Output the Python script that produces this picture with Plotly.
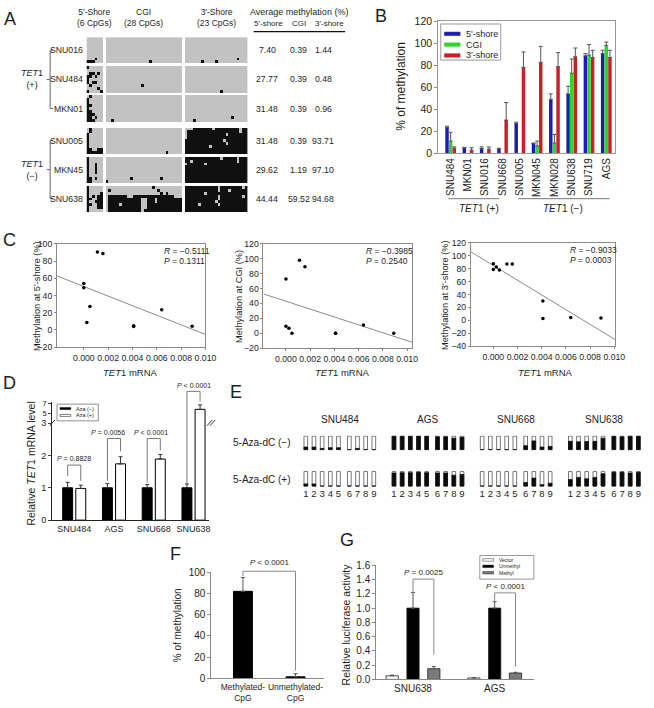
import numpy as np
import plotly.graph_objects as go

W, H = 654, 708
FONT = "Arial, 'Liberation Sans', Helvetica, sans-serif"
INK = "#1e1e1e"


def PX(x):
    return x / W


def PY(y):
    return 1 - y / H


def DX(a, b):
    return [PX(a), PX(b)]


def DY(top, bottom):
    return [PY(bottom), PY(top)]


def lin(dom, rng, v):
    return dom[0] + (v - rng[0]) / (rng[1] - rng[0]) * (dom[1] - dom[0])


# ===================== DATA =====================
A_LINES = ["SNU016", "SNU484", "MKN01", "SNU005", "MKN45", "SNU638"]
A_ROWS = {
    "SNU016": [
        "...... ............................ .......................",
        "...... ............................ .......................",
        "...... ............................ .......................",
        "...... ............................ .......................",
        "...... ............................ .......................",
        "...... ............................ .......................",
        "...... ............................ .......................",
        "...#.. ............................ ...................#...",
        "###... ................#........... ......#....#...........",
    ],
    "SNU484": [
        "#..... ............................ .......................",
        "...... ............................ .......................",
        ".##.#. ............................ .......................",
        "##.#.. ............................ .......................",
        "#..... ............................ .......................",
        "#.##.. ............................ .......................",
        ".#.... .............#.............. .......................",
        "....#. ............................ .......................",
        "#....# ............................ .............#.........",
    ],
    "MKN01": [
        ".#.... ............................ .......................",
        "#..... ............................ .......................",
        "#..... ............................ .......................",
        "##.... ............................ .......................",
        "#..... ............................ .......................",
        "##.... ............................ .......................",
        "###... ............................ .......................",
        "##.#.. ............................ .................#.....",
        "###... ..#......................... ...#...................",
    ],
    "SNU005": [
        ".#.... ............................ ...#######.#########.##",
        ".#.... ............................ .###################.##",
        "#..... ............................ .##############.#######",
        "#..... ............................ .######################",
        "#..... ............................ ##############.########",
        "#..... ............................ ###############.#######",
        "#..... ............................ #########.#############",
        "##..## ............................ #######################",
        "###### ......................#..... #######################",
    ],
    "MKN45": [
        "#..... ............................ #############.#####.###",
        "#..... ............................ ##.################.###",
        "#..#.. ............................ .######.###############",
        "#..#.. ............................ #######################",
        "#..#.. ............................ #######################",
        "#..#.. ............................ #######################",
        "#..... ............................ #######################",
        "##.#.. .........#..........#....... #######################",
        "##.... #........................... #######################",
    ],
    "SNU638": [
        "#..... .................#.......... ############.########.#",
        "#..... .#.................#........ ############.###.######",
        "#....# ....................#.#..... #######.###############",
        "#.#.## .#######..###############... ############.########.#",
        "##..## .############..###.######### ############.##########",
        "#..### .############..###.######### ###########.###########",
        "##..## .####.#######..############# #####.######.##########",
        "#...## .############..############# #######################",
        "#..... .############.############## #######################",
    ],
}
A_AVG_5SHORE = [7.40, 27.77, 31.48, 31.48, 29.62, 44.44]
A_AVG_CGI = [0.39, 0.39, 0.39, 0.39, 1.19, 59.52]
A_AVG_3SHORE = [1.44, 0.48, 0.96, 93.71, 97.10, 94.68]

B_LINES = ["SNU484", "MKN01", "SNU016", "SNU668", "SNU005", "MKN045", "MKN028", "SNU638", "SNU719", "AGS"]
B_5SHORE = [23.5, 4.8, 4.2, 3.9, 27.2, 8.7, 49, 54, 88.7, 90.7]
B_5SHORE_ERR = [1, 0.5, 1.5, 0.5, 1, 0.6, 5, 7, 2, 3]
B_CGI = [11, 0, 0, 0, 0, 6.6, 9.3, 72.8, 89.3, 98.2]
B_CGI_ERR = [8, 0, 0, 0, 0, 4.4, 7.7, 13, 9.7, 3]
B_3SHORE = [4.5, 2.7, 3.6, 30.1, 78.2, 82.7, 78.8, 87.8, 87.2, 87.2]
B_3SHORE_ERR = [1.2, 2.3, 2, 16, 14, 14.6, 12.8, 8, 6.5, 6.5]

C_TET1 = [0.0064, 0.0041, 0.0089, 0.0041, 0.0005, 0.00025, 0.0, 0.0, 0.00157, 0.00112]
C_R = ["\u22120.5111", "\u22120.3985", "\u22120.9033"]
C_P = ["0.1311", "0.2540", "0.0003"]

D_LINES = ["SNU484", "AGS", "SNU668", "SNU638"]
D_AZA_NEG = [1.0, 1.0, 1.0, 1.0]
D_AZA_NEG_ERR = [0.17, 0.13, 0.10, 0.12]
D_AZA_POS = [0.98, 1.74, 1.89, 5.8]
D_AZA_POS_ERR = [0.10, 0.22, 0.14, 0.9]
D_PVALS = ["<i>P</i> = 0.8828", "<i>P</i> = 0.0056", "<i>P</i> < 0.0001", "<i>P</i> < 0.0001"]

E_LINES = ["SNU484", "AGS", "SNU668", "SNU638"]
E_AZA_NEG = {
    "SNU484": [0.2, 0.2, 0.1, 0.15, 0.15, 0.0, 0.1, 0.0, 0.0],
    "AGS": [1.0, 1.0, 1.0, 1.0, 1.0, 0.95, 0.95, 0.85, 0.92],
    "SNU668": [0.0, 0.0, 0.0, 0.0, 0.0, 0.3, 0.65, 0.2, 0.25],
    "SNU638": [0.62, 0.58, 0.6, 0.62, 0.85, 1.0, 0.95, 1.0, 1.0],
}
E_AZA_POS = {
    "SNU484": [0.15, 0.15, 0.0, 0.0, 0.0, 0.0, 0.0, 0.0, 0.0],
    "AGS": [0.9, 0.92, 0.92, 0.95, 0.92, 0.9, 0.9, 0.75, 0.8],
    "SNU668": [0.0, 0.0, 0.0, 0.0, 0.0, 0.25, 0.55, 0.1, 0.2],
    "SNU638": [0.45, 0.6, 0.5, 0.6, 0.85, 0.95, 0.95, 0.9, 0.95],
}

F_GROUPS = ["Methylated-<br>CpG", "Unmethylated-<br>CpG"]
F_VALUES = [82, 1.5]
F_ERR = [13, 3]

G_LINES = ["SNU638", "AGS"]
G_VECTOR = [0.05, 0.02]
G_VECTOR_ERR = [0.01, 0.005]
G_UNMETH = [1.0, 1.0]
G_UNMETH_ERR = [0.22, 0.09]
G_METH = [0.15, 0.09]
G_METH_ERR = [0.03, 0.01]
G_PVALS = ["<i>P</i> = 0.0025", "<i>P</i> < 0.0001"]

# ===================== FIGURE =====================
fig = go.Figure()
ann = []
shp = []


def text(x, y, s, size=10, xanchor="center", yanchor="middle", angle=0, xref="paper", yref="paper", color=INK):
    ann.append(dict(x=x, y=y, xref=xref, yref=yref, text=s, showarrow=False,
                    font=dict(size=size, color=color, family=FONT),
                    xanchor=xanchor, yanchor=yanchor, textangle=angle))


def seg(x0, y0, x1, y1, color="#666", width=1):
    shp.append(dict(type="line", xref="paper", yref="paper", x0=x0, y0=y0, x1=x1, y1=y1,
                    line=dict(color=color, width=width)))


def rect(x0, y0, x1, y1, fill, lc="#222", lw=0.8):
    shp.append(dict(type="rect", xref="paper", yref="paper", x0=x0, y0=y0, x1=x1, y1=y1,
                    fillcolor=fill, line=dict(color=lc, width=lw)))


def ebar(arr, color="#333"):
    return dict(type="data", array=arr, arrayminus=[0] * len(arr), symmetric=False,
                color=color, thickness=1, width=2)


axes = {}
base_ax = dict(showgrid=False, zeroline=False, fixedrange=True,
               tickfont=dict(family=FONT, size=10, color=INK))

# ---------------- Panel A ----------------
N5, NC, N3 = 6, 28, 23
ncols = N5 + 1 + NC + 1 + N3
z = []
centers = []
for b, name in enumerate(A_LINES):
    if b > 0:
        z.append([None] * ncols)
        if b == 3:
            z.append([None] * ncols)
    start = len(z)
    for row in A_ROWS[name]:
        p5, pc, p3 = row.split()
        p5 = p5.ljust(N5, ".")[:N5]
        pc = pc.ljust(NC, ".")[:NC]
        p3 = p3.ljust(N3, ".")[:N3]
        conv = lambda s: [1 if ch == "#" else 0 for ch in s]
        z.append(conv(p5) + [None] + conv(pc) + [None] + conv(p3))
    centers.append((start + len(z) - 1) / 2)
nrows = len(z)
fig.add_trace(go.Heatmap(z=z, x=list(range(ncols)), y=list(range(nrows)),
                         colorscale=[[0, "#c2c2c2"], [0.5, "#c2c2c2"], [0.5, "#101010"], [1, "#101010"]],
                         zmin=0, zmax=1, showscale=False, hoverinfo="skip", xaxis="x", yaxis="y"))
A_XD, A_XR = DX(88, 252), [-0.5, ncols - 0.5]
A_YD, A_YR = DY(31.7, 209.5), [nrows - 0.5, -0.5]
axes["xaxis"] = dict(base_ax, domain=A_XD, range=A_XR, visible=False, anchor="y")
axes["yaxis"] = dict(base_ax, domain=A_YD, range=A_YR, visible=False, anchor="x")

ax_x = lambda c: lin(A_XD, A_XR, c)
ax_y = lambda r: lin(A_YD, A_YR, r)
text(ax_x((N5 - 1) / 2), PY(12), "5'-Shore<br>(6 CpGs)", size=8.5)
text(ax_x(N5 + 1 + (NC - 1) / 2), PY(12), "CGI<br>(28 CpGs)", size=8.5)
text(ax_x(N5 + NC + 2 + (N3 - 1) / 2), PY(12), "3'-Shore<br>(23 CpGs)", size=8.5)
text(PX(304), PY(6.5), "Average methylation (%)", size=9)
text(PX(273), PY(17.5), "5'-shore", size=8)
text(PX(304), PY(17.5), "CGI", size=8)
text(PX(335), PY(17.5), "3'-shore", size=8)
seg(PX(258), PY(26), PX(351), PY(26), color="#111", width=1.2)
for i, name in enumerate(A_LINES):
    yc = ax_y(centers[i])
    text(PX(86), yc, name, size=8.7, xanchor="right")
    text(PX(272), yc, "%.2f" % A_AVG_5SHORE[i], size=8.7)
    text(PX(304), yc, "%.2f" % A_AVG_CGI[i], size=8.7)
    text(PX(329), yc, "%.2f" % A_AVG_3SHORE[i], size=8.7)
for g, (i0, i1, lab) in enumerate([(0, 2, "(+)"), (3, 5, "(\u2212)")]):
    y0, y1, ym = ax_y(centers[i0]), ax_y(centers[i1]), ax_y(centers[(i0 + i1) // 2])
    seg(PX(51), y0, PX(51), y1)
    seg(PX(51), y0, PX(54), y0)
    seg(PX(51), y1, PX(54), y1)
    seg(PX(47.5), ym, PX(51), ym)
    text(PX(33), ym, "<i>TET</i>1<br>" + lab, size=9)

# ---------------- Panel B ----------------
B_XD, B_XR = DX(445.7, 626), [-0.72, 9.53]
B_YD, B_YR = DY(15.7, 149.7), [0, 120]
b_series = [("5'-shore", B_5SHORE, B_5SHORE_ERR, "#1c1cb4", -0.21),
            ("CGI", B_CGI, B_CGI_ERR, "#2fd42f", 0.0),
            ("3'-shore", B_3SHORE, B_3SHORE_ERR, "#c8202a", 0.21)]
for name, vals, errs, col, off in b_series:
    xs = [i + off for i in range(len(B_LINES))]
    ys = [v if v > 0 else None for v in vals]
    fig.add_trace(go.Bar(x=xs, y=ys, width=0.2, marker=dict(color=col, line=dict(width=0)),
                         error_y=ebar(errs, "#555"), name=name, showlegend=False,
                         xaxis="x2", yaxis="y2", hoverinfo="skip"))
axes["xaxis2"] = dict(base_ax, domain=B_XD, range=B_XR, anchor="y2", tickvals=list(range(len(B_LINES))),
                      ticktext=B_LINES, tickangle=-90, ticks="", showline=True, mirror=True,
                      linecolor="#9a9a9a", linewidth=1, tickfont=dict(family=FONT, size=10, color=INK))
axes["yaxis2"] = dict(base_ax, domain=B_YD, range=B_YR, anchor="x2", dtick=20, ticks="outside", ticklen=3,
                      tickcolor="#888", showline=True, mirror=True, linecolor="#9a9a9a", linewidth=1,
                      tickfont=dict(family=FONT, size=10.5, color=INK))
text(PX(407), PY(82), "% of methylation", size=12, angle=-90)
rect(PX(448.3), PY(18.3), PX(509.3), PY(55), "white", lc="#999", lw=1)
for k, (name, vals, errs, col, off) in enumerate(b_series):
    yy = 28.3 + 11 * k
    rect(PX(452), PY(yy - 1.8), PX(468), PY(yy + 1.8), col, lc=col, lw=0.5)
    text(PX(471.5), PY(yy), name, size=9, xanchor="left")
seg(PX(456), PY(196), PX(508), PY(196), color="#777")
seg(PX(527), PY(196), PX(620), PY(196), color="#777")
text(PX(487), PY(206), "<i>TET</i>1 (+)", size=10)
text(PX(573), PY(206), "<i>TET</i>1 (\u2212)", size=10)

# ---------------- Panel C ----------------
c_cfg = [
    ("x3", "y3", DX(58, 209), DY(242, 347), [-0.0022, 0.010], [-20, 100], B_5SHORE,
     "Methylation at 5'-shore (%)", 37, 133, 165),
    ("x4", "y4", DX(268, 419), DY(242, 348), [-0.00185, 0.0104], [-20, 120], B_CGI,
     "Methylation at CGI (%)", 243, 348, 370),
    ("x5", "y5", DX(479, 626), DY(241, 346), [-0.00185, 0.0101], [-40, 120], B_3SHORE,
     "Methylation at 3'-shore (%)", 452, 555, 578),
]
tv = [0, 0.002, 0.004, 0.006, 0.008, 0.010]
for k, (xa, ya, xd, yd, xr, yr, yv, ytitle, ytx, xtx, rx) in enumerate(c_cfg):
    slope, icpt = np.polyfit(C_TET1, yv, 1)
    fig.add_trace(go.Scatter(x=[xr[0], xr[1]], y=[icpt + slope * xr[0], icpt + slope * xr[1]], mode="lines",
                             line=dict(color="#8a8a8a", width=1), showlegend=False, hoverinfo="skip",
                             xaxis=xa, yaxis=ya))
    fig.add_trace(go.Scatter(x=C_TET1, y=yv, mode="markers", marker=dict(color="#000", size=3.5),
                             showlegend=False, hoverinfo="skip", xaxis=xa, yaxis=ya))
    n = xa[1:]
    axes["xaxis" + n] = dict(base_ax, domain=xd, range=xr, anchor=ya, tickvals=tv, tickformat=".3f",
                             ticks="outside", ticklen=2, tickcolor="#888", showline=True, mirror=True,
                             linecolor="#8a8a8a", tickfont=dict(family=FONT, size=8.7, color=INK))
    axes["yaxis" + n] = dict(base_ax, domain=yd, range=yr, anchor=xa, dtick=20, ticks="outside", ticklen=2,
                             tickcolor="#888", showline=True, mirror=True, linecolor="#8a8a8a",
                             tickfont=dict(family=FONT, size=8.7, color=INK))
    text(PX(ytx), (yd[0] + yd[1]) / 2, ytitle, size=9.2, angle=-90)
    text(PX(xtx), PY(373), "<i>TET</i>1 mRNA", size=9.5)
    text(PX(rx), yd[1] - 7.5 / H, "<i>R</i> = " + C_R[k], size=8.5, xanchor="left")
    text(PX(rx), yd[1] - 17.5 / H, "<i>P</i> = " + C_P[k], size=8.5, xanchor="left")

# ---------------- Panel D ----------------
D_XD, D_XR = DX(53, 213), [-0.556, 3.4]
D_YD_LO, D_YR_LO = DY(424.3, 523), [0, 3]
D_YD_HI, D_YR_HI = DY(403.3, 424.3), [3, 7.2]
dx_off = 0.165
xs_neg = [i - dx_off for i in range(len(D_LINES))]
xs_pos = [i + dx_off for i in range(len(D_LINES))]
for ya in ["y6", "y7"]:
    fig.add_trace(go.Bar(x=xs_neg, y=D_AZA_NEG, width=0.25, marker=dict(color="#000", line=dict(color="#000", width=1)),
                         error_y=ebar(D_AZA_NEG_ERR), showlegend=False, hoverinfo="skip", xaxis="x6", yaxis=ya))
    fig.add_trace(go.Bar(x=xs_pos, y=D_AZA_POS, width=0.25, marker=dict(color="#fff", line=dict(color="#000", width=1)),
                         error_y=ebar(D_AZA_POS_ERR), showlegend=False, hoverinfo="skip", xaxis="x6", yaxis=ya))
axes["xaxis6"] = dict(base_ax, domain=D_XD, range=D_XR, anchor="y6", tickvals=list(range(4)), ticktext=D_LINES,
                      ticks="", showline=True, linecolor="#222", tickfont=dict(family=FONT, size=9, color=INK))
axes["yaxis6"] = dict(base_ax, domain=D_YD_LO, range=D_YR_LO, anchor="x6", tickvals=[0, 1, 2, 3], ticks="outside",
                      ticklen=3, showline=True, linecolor="#222", tickfont=dict(family=FONT, size=9, color=INK))
axes["yaxis7"] = dict(base_ax, domain=D_YD_HI, range=D_YR_HI, anchor="x6", tickvals=[5, 7], ticks="outside",
                      ticklen=3, showline=True, linecolor="#222", tickfont=dict(family=FONT, size=7.5, color=INK))
text(PX(32), PY(465), "Relative <i>TET</i>1 mRNA level", size=10.5, angle=-90)
seg(PX(50.5), PY(427), PX(56), PY(421), color="#333")
seg(PX(210.5), PY(427), PX(216), PY(421), color="#333")
seg(PX(213.5), PY(427), PX(219), PY(421), color="#333")
rect(PX(58), PY(405), PX(100), PY(422), "white", lc="#444", lw=0.6)
rect(PX(61), PY(408.5), PX(72), PY(410.5), "#000", lc="#000", lw=0.5)
rect(PX(61), PY(415.5), PX(72), PY(417.5), "#fff", lc="#000", lw=0.5)
text(PX(75), PY(409.5), "Aza (\u2212)", size=5.5, xanchor="left")
text(PX(75), PY(416.5), "Aza (+)", size=5.5, xanchor="left")
d_br = [(467, 478, 483, 460, 0), (440, 483, 453, 434, -6), (440, 485, 452, 434, -3), (392, 488, 402, 386, 0)]
for i, (yt, yl, yr_, ytx, dxt) in enumerate(d_br):
    xl = lin(D_XD, D_XR, xs_neg[i])
    xr_ = lin(D_XD, D_XR, xs_pos[i])
    seg(xl, PY(yt), xr_, PY(yt), color="#777")
    seg(xl, PY(yt), xl, PY(yl), color="#777")
    seg(xr_, PY(yt), xr_, PY(yr_), color="#777")
    text((xl + xr_) / 2 + dxt / W, PY(ytx), D_PVALS[i], size=7)

# ---------------- Panel E ----------------
E_XD, E_XR = [PX(304.4), 1.0], [-0.8, 41.3]
e_pos = []
e_lab = []
for g in range(len(E_LINES)):
    for i in range(9):
        e_pos.append(g * 10.8 + i + (0.33 if i >= 5 else 0))
        e_lab.append(str(i + 1))
for ya, data in [("y8", E_AZA_NEG), ("y9", E_AZA_POS)]:
    fr = [f for name in E_LINES for f in data[name]]
    fig.add_trace(go.Bar(x=e_pos, y=[1] * len(e_pos), width=0.45,
                         marker=dict(color="#fff", line=dict(color="#555", width=0.8)),
                         showlegend=False, hoverinfo="skip", xaxis="x8", yaxis=ya))
    fig.add_trace(go.Bar(x=e_pos, y=fr, width=0.45,
                         marker=dict(color="#0c0c0c", line=dict(color="#0c0c0c", width=0.8)),
                         showlegend=False, hoverinfo="skip", xaxis="x8", yaxis=ya))
axes["xaxis8"] = dict(base_ax, domain=E_XD, range=E_XR, anchor="y9", tickvals=e_pos, ticktext=e_lab, ticks="",
                      showline=False, tickfont=dict(family=FONT, size=9.5, color=INK))
axes["yaxis8"] = dict(base_ax, domain=DY(437, 452), range=[-0.04, 1.04], anchor="x8", visible=False)
axes["yaxis9"] = dict(base_ax, domain=DY(473, 489), range=[-0.04, 1.04], anchor="x8", visible=False)
for g, name in enumerate(E_LINES):
    xc = lin(E_XD, E_XR, g * 10.8 + 4.15)
    text(xc, PY(421), name, size=10)
text(PX(298), PY(444.5), "5-Aza-dC (\u2212)", size=10, xanchor="right")
text(PX(298), PY(481.5), "5-Aza-dC (+)", size=10, xanchor="right")

# ---------------- Panel F ----------------
F_XD, F_XR = DX(215, 330), [-0.6, 1.55]
F_YD, F_YR = DY(576, 684), [0, 100]
fig.add_trace(go.Bar(x=[0, 1], y=F_VALUES, width=0.36, marker=dict(color="#000", line=dict(color="#000", width=1)),
                     error_y=ebar(F_ERR, "#555"), showlegend=False, hoverinfo="skip", xaxis="x10", yaxis="y10"))
axes["xaxis10"] = dict(base_ax, domain=F_XD, range=F_XR, anchor="y10", tickvals=[0, 1], ticktext=F_GROUPS, ticks="",
                       tickangle=0, showline=True, linecolor="#888", tickfont=dict(family=FONT, size=8.5, color=INK))
axes["yaxis10"] = dict(base_ax, domain=F_YD, range=F_YR, anchor="x10", dtick=20, ticks="outside", ticklen=3,
                       tickcolor="#888", showline=True, linecolor="#888",
                       tickfont=dict(family=FONT, size=10, color=INK))
text(PX(180), PY(630), "% of methylation", size=10, angle=-90)
fx0, fx1 = lin(F_XD, F_XR, 0), lin(F_XD, F_XR, 1)
seg(fx0, PY(575), fx1, PY(575), color="#888")
seg(fx0, PY(575), fx0, PY(580), color="#888")
seg(fx1, PY(575), fx1, PY(676), color="#888")
text((fx0 + fx1) / 2, PY(566), "<i>P</i> < 0.0001", size=8)

# ---------------- Panel G ----------------
G_XD, G_XR = DX(382.7, 543), [-0.45, 1.48]
G_YD, G_YR = DY(569, 685), [0, 1.6]
g_series = [(G_VECTOR, G_VECTOR_ERR, "#ffffff", -0.255), (G_UNMETH, G_UNMETH_ERR, "#000000", 0.0),
            (G_METH, G_METH_ERR, "#7a7a7a", 0.255)]
for vals, errs, col, off in g_series:
    fig.add_trace(go.Bar(x=[i + off for i in range(2)], y=vals, width=0.15,
                         marker=dict(color=col, line=dict(color="#222", width=0.8)),
                         error_y=ebar(errs, "#555"), showlegend=False, hoverinfo="skip", xaxis="x11", yaxis="y11"))
axes["xaxis11"] = dict(base_ax, domain=G_XD, range=G_XR, anchor="y11", tickvals=[0, 1], ticktext=G_LINES, ticks="",
                       showline=True, linecolor="#888", tickfont=dict(family=FONT, size=10, color=INK))
axes["yaxis11"] = dict(base_ax, domain=G_YD, range=G_YR, anchor="x11", dtick=0.2, tickformat=".1f",
                       ticks="outside", ticklen=3, tickcolor="#888", showline=True, linecolor="#888",
                       tickfont=dict(family=FONT, size=10, color=INK))
text(PX(352), PY(629), "Relative luciferase activity", size=10.5, angle=-90)
g_br = [(583, 597, 660, 576), (597, 607, 672, 591)]
for i, (yt, yl, yr_, ytx) in enumerate(g_br):
    xl = lin(G_XD, G_XR, i)
    xr_ = lin(G_XD, G_XR, i + 0.255)
    seg(xl, PY(yt), xr_, PY(yt), color="#888")
    seg(xl, PY(yt), xl, PY(yl), color="#888")
    seg(xr_, PY(yt), xr_, PY(yr_), color="#888")
    text((xl + xr_) / 2, PY(ytx), G_PVALS[i], size=8)
rect(PX(488), PY(559), PX(543), PY(583), "white", lc="#555", lw=0.6)
for k, (lab, col) in enumerate([("Vector", "#fff"), ("Unmethyl", "#000"), ("Methyl", "#7a7a7a")]):
    yy = 563.5 + 6.5 * k
    rect(PX(491), PY(yy - 1.3), PX(502), PY(yy + 1.3), col, lc="#333", lw=0.5)
    text(PX(505), PY(yy), lab, size=5, xanchor="left")

for lab, x, y in [("A", 10, 13), ("B", 388, 10), ("C", 10, 238), ("D", 10, 383), ("E", 240, 393),
                  ("F", 178, 557), ("G", 353, 543)]:
    text(PX(x), PY(y), lab, size=18)

fig.update_layout(width=W, height=H, margin=dict(l=0, r=0, t=0, b=0), paper_bgcolor="white",
                  plot_bgcolor="white", barmode="overlay", showlegend=False, hovermode=False,
                  font=dict(family=FONT, color=INK), annotations=ann, shapes=shp, **axes)

fig.write_html("out.html", include_plotlyjs=True, config={"displayModeBar": False},
               post_script="document.body.style.margin='0';")
